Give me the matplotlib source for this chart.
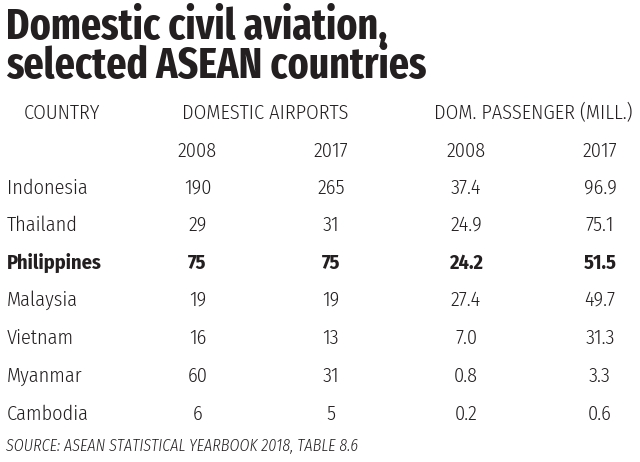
import matplotlib
matplotlib.use('Agg')
import matplotlib.pyplot as plt

countries = ['Indonesia', 'Thailand', 'Philippines', 'Malaysia', 'Vietnam', 'Myanmar', 'Cambodia']
airports_2008 = ['190', '29', '75', '19', '16', '60', '6']
airports_2017 = ['265', '31', '75', '19', '13', '31', '5']
pass_2008 = ['37.4', '24.9', '24.2', '27.4', '7.0', '0.8', '0.2']
pass_2017 = ['96.9', '75.1', '51.5', '49.7', '31.3', '3.3', '0.6']
years = ['2008', '2017', '2008', '2017']
highlight = 'Philippines'

body_font = ['Fira Sans Condensed', 'DejaVu Sans']
title_font = ['Fira Sans Extra Condensed', 'DejaVu Sans']
plt.rcParams['font.family'] = body_font

ink = '#231f20'
fig = plt.figure(figsize=(6.4, 4.62), dpi=100)
fig.patch.set_facecolor('white')
ax = fig.add_axes([0, 0, 1, 1])
ax.set_xlim(0, 640)
ax.set_ylim(462, 0)
ax.axis('off')

# title, two lines
ax.text(6, 27, 'Domestic civil aviation,', fontsize=31, fontweight='bold', family=title_font,
        color=ink, va='center', ha='left')
ax.text(6, 67, 'selected ASEAN countries', fontsize=31, fontweight='bold', family=title_font,
        color=ink, va='center', ha='left')

fs = 14.6
lw = 300
ax.text(24, 113, 'COUNTRY', fontsize=fs, color=ink, va='center', fontweight=lw)
ax.text(265, 113, 'DOMESTIC AIRPORTS', fontsize=fs, color=ink, va='center', ha='center', fontweight=lw)
ax.text(533, 113, 'DOM. PASSENGER (MILL.)', fontsize=fs, color=ink, va='center', ha='center', fontweight=lw)

col_x = [197.5, 331, 466, 600]
for x, y in zip(col_x, years):
    ax.text(x, 151, y, fontsize=fs, color=ink, va='center', ha='center', fontweight=lw)

row_y = [188, 225, 263, 300, 338, 376, 414]
for i, c in enumerate(countries):
    w = 'bold' if c == highlight else lw
    y = row_y[i]
    ax.text(7, y, c, fontsize=fs, color=ink, va='center', fontweight=w)
    vals = [airports_2008[i], airports_2017[i], pass_2008[i], pass_2017[i]]
    for x, v in zip(col_x, vals):
        ax.text(x, y, v, fontsize=fs, color=ink, va='center', ha='center', fontweight=w)

ax.text(6, 446, 'SOURCE: ASEAN STATISTICAL YEARBOOK 2018, TABLE 8.6', fontsize=11.5,
        color=ink, va='center', style='italic', fontweight=lw)

fig.savefig('out.png', dpi=100, facecolor='white')
